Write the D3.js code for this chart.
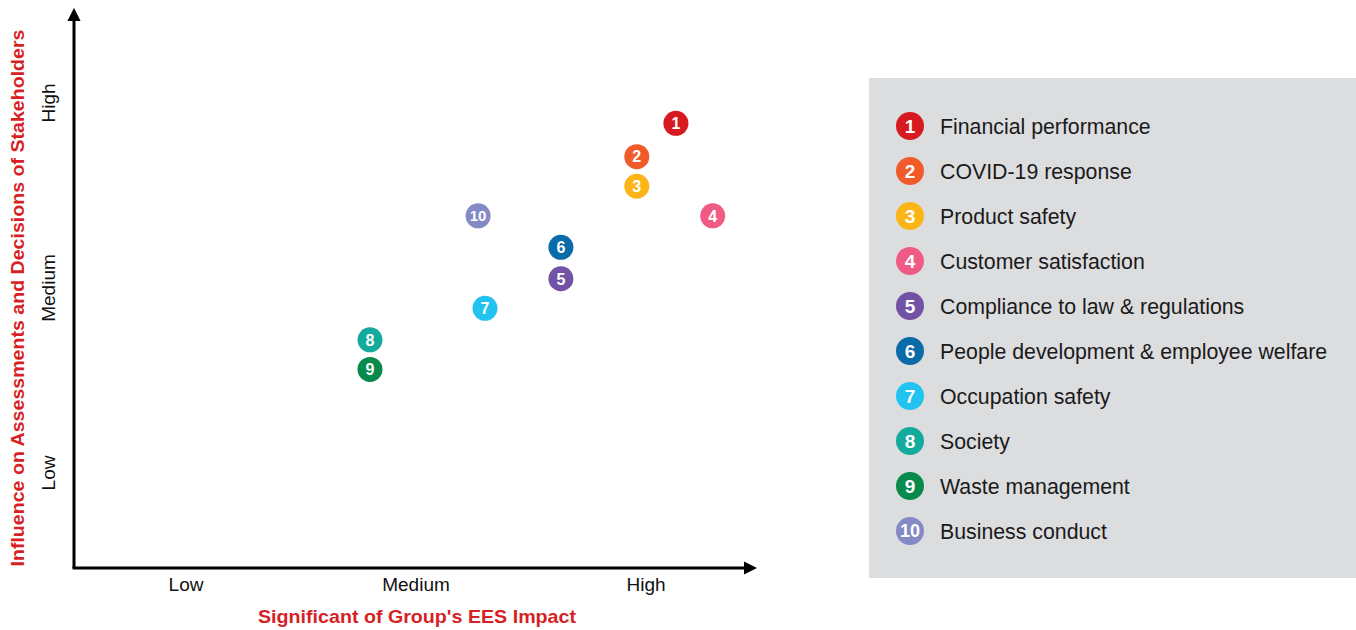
<!DOCTYPE html>
<html>
<head>
<meta charset="utf-8">
<script src="https://cdn.jsdelivr.net/npm/d3@7"></script>
<style>
  body { margin: 0; background: #fff; }
  text { font-family: "Liberation Sans", Arial, sans-serif; }
</style>
</head>
<body>
<script>
// Topics, their colours and their positions on the matrix (1 = Low, 2 = Medium, 3 = High)
var topics = ["Financial performance", "COVID-19 response", "Product safety", "Customer satisfaction",
  "Compliance to law & regulations", "People development & employee welfare", "Occupation safety",
  "Society", "Waste management", "Business conduct"];
var colors = ["#d71920", "#f15a29", "#fbb516", "#ef5b85", "#7152a4", "#0b6aa8", "#22c3f0", "#14aa9c", "#078a4c", "#8589c5"];
var impact = [3.13, 2.96, 2.96, 3.29, 2.63, 2.63, 2.30, 1.80, 1.80, 2.27];
var influence = [2.89, 2.71, 2.55, 2.39, 2.05, 2.22, 1.89, 1.72, 1.56, 2.39];
var levels = ["Low", "Medium", "High"];

var width = 1356, height = 630;
var svg = d3.select(document.body).append("svg").attr("width", width).attr("height", height);

// Scales - level 1..3 mapped to label positions
var x = d3.scaleLinear().domain([1, 3]).range([186, 646]);
var y = d3.scaleLinear().domain([1, 3]).range([473, 103]);
var originX = 74, originY = 568;

// Arrow marker
svg.append("defs").append("marker")
  .attr("id", "arrow")
  .attr("viewBox", "0 0 10 10")
  .attr("refX", 1).attr("refY", 5)
  .attr("markerWidth", 4.5).attr("markerHeight", 4.5)
  .attr("markerUnits", "strokeWidth")
  .attr("orient", "auto")
  .append("path").attr("d", "M0,0 L10,5 L0,10 Z").attr("fill", "#000");

// Axes lines
svg.append("path")
  .attr("d", "M" + originX + "," + originY + " L" + originX + ",20")
  .attr("stroke", "#000").attr("stroke-width", 3).attr("fill", "none")
  .attr("marker-end", "url(#arrow)");
svg.append("path")
  .attr("d", "M" + (originX - 1.5) + "," + originY + " L745," + originY)
  .attr("stroke", "#000").attr("stroke-width", 3).attr("fill", "none")
  .attr("marker-end", "url(#arrow)");

// x level labels
svg.selectAll(".xlab").data(levels).enter().append("text")
  .attr("class", "xlab")
  .attr("x", function(d, i) { return x(i + 1); })
  .attr("y", 591)
  .attr("text-anchor", "middle")
  .style("font-size", "19px")
  .attr("fill", "#111")
  .text(function(d) { return d; });

// y level labels (rotated)
svg.selectAll(".ylab").data(levels).enter().append("text")
  .attr("class", "ylab")
  .attr("transform", function(d, i) { return "translate(55," + y(i + 1) + ") rotate(-90)"; })
  .attr("text-anchor", "middle")
  .style("font-size", "19px")
  .attr("fill", "#111")
  .text(function(d) { return d; });

// Axis titles
svg.append("text")
  .attr("x", 417).attr("y", 623)
  .attr("text-anchor", "middle")
  .attr("textLength", 318).attr("lengthAdjust", "spacingAndGlyphs")
  .style("font-size", "19px").style("font-weight", "bold")
  .attr("fill", "#d71f26")
  .text("Significant of Group's EES Impact");
svg.append("text")
  .attr("transform", "translate(24,298) rotate(-90)")
  .attr("text-anchor", "middle")
  .attr("textLength", 537).attr("lengthAdjust", "spacingAndGlyphs")
  .style("font-size", "19px").style("font-weight", "bold")
  .attr("fill", "#d71f26")
  .text("Influence on Assessments and Decisions of Stakeholders");

// Points
var pts = svg.append("g").selectAll("g").data(topics).enter().append("g")
  .attr("transform", function(d, i) { return "translate(" + x(impact[i]) + "," + y(influence[i]) + ")"; });
pts.append("circle").attr("r", 12.5).attr("fill", function(d, i) { return colors[i]; });
pts.append("text")
  .attr("text-anchor", "middle").attr("dy", "0.36em")
  .style("font-size", function(d, i) { return i == 9 ? "15px" : "16px"; })
  .style("font-weight", "bold")
  .attr("fill", "#fff")
  .text(function(d, i) { return i + 1; });

// Legend
var legend = svg.append("g");
legend.append("rect")
  .attr("x", 869).attr("y", 78).attr("width", 487).attr("height", 500)
  .attr("fill", "#dcdddf");
var items = legend.selectAll(".item").data(topics).enter().append("g")
  .attr("class", "item")
  .attr("transform", function(d, i) { return "translate(910," + (126 + i * 45) + ")"; });
items.append("circle").attr("r", 14).attr("fill", function(d, i) { return colors[i]; });
items.append("text")
  .attr("text-anchor", "middle").attr("dy", "0.36em")
  .style("font-size", function(d, i) { return i == 9 ? "18px" : "19px"; })
  .style("font-weight", "bold")
  .attr("fill", "#fff")
  .text(function(d, i) { return i + 1; });
items.append("text")
  .attr("x", 30).attr("dy", "0.36em")
  .style("font-size", "21.3px")
  .attr("fill", "#1a1a1a")
  .text(function(d) { return d; });
</script>
</body>
</html>
